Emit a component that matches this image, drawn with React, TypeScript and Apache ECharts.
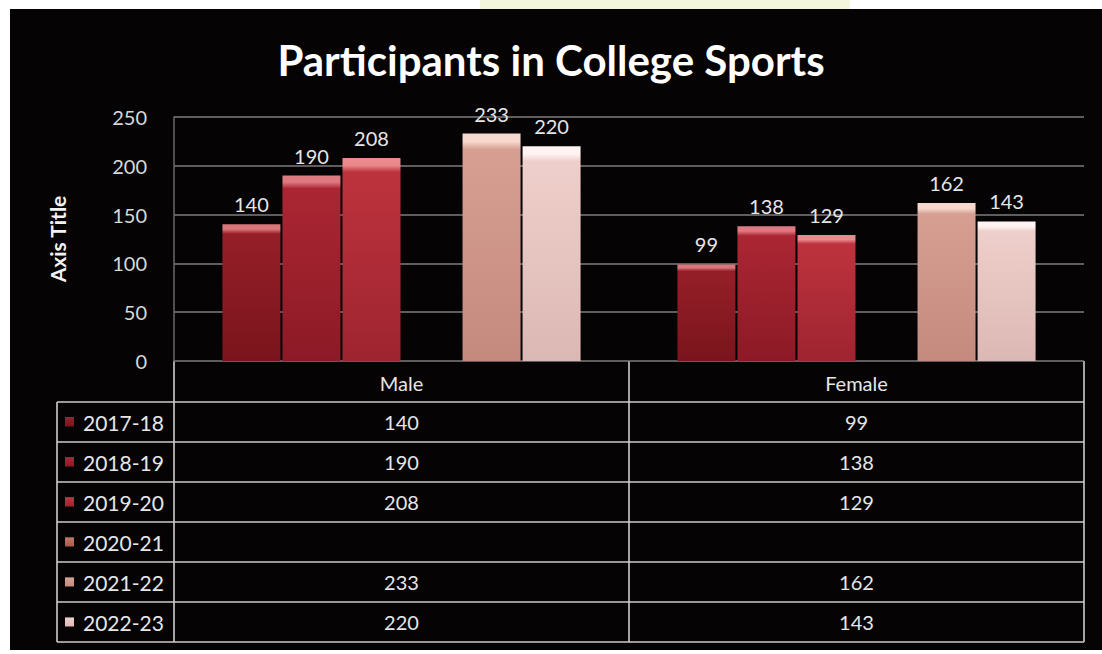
import React, { useEffect, useRef } from "react";
import * as echarts from "echarts";

const title = "Participants in College Sports";
const yAxisTitle = "Axis Title";
const categories = ["Male", "Female"];
const seriesNames = ["2017-18", "2018-19", "2019-20", "2020-21", "2021-22", "2022-23"];
const values2017 = [140, 99];
const values2018 = [190, 138];
const values2019 = [208, 129];
const values2020: (number | null)[] = [null, null];
const values2021 = [233, 162];
const values2022 = [220, 143];
const seriesValues = [values2017, values2018, values2019, values2020, values2021, values2022];
const yMin = 0;
const yMax = 250;
const yInterval = 50;

const palette = [
  { top: "#d9767a", base: "#951f28", bottom: "#7a141c" },
  { top: "#e07a82", base: "#ab2633", bottom: "#8c1a26" },
  { top: "#ea8a8c", base: "#bd333d", bottom: "#9e2430" },
  { top: "#eab0a0", base: "#c47464", bottom: "#a85a4c" },
  { top: "#f6d8cc", base: "#d79e92", bottom: "#c48a7e" },
  { top: "#fff4f2", base: "#efcfcb", bottom: "#dcb8b4" },
];

function fillFor(i: number) {
  const c = palette[i];
  return new echarts.graphic.LinearGradient(0, 0, 0, 1, [
    { offset: 0, color: c.top },
    { offset: 0.035, color: c.top },
    { offset: 0.07, color: c.base },
    { offset: 1, color: c.bottom },
  ]);
}

// layout (pixels)
const W = 1102;
const H = 654;
const plotLeft = 174;
const plotRight = 1084;
const plotTop = 117;
const plotBottom = 361;
const tableLeft = 57;
const rowH = 40;
const headerBottom = 402;

export default function App() {
  const ref = useRef<HTMLDivElement>(null);

  useEffect(() => {
    if (!ref.current) return;
    const chart = echarts.init(ref.current, null, { renderer: "svg" });
    const lineColor = "#cdcdcd";
    const textColor = "#e6e6e6";
    const font = "Lato, 'Open Sans', sans-serif";
    const midX = (plotLeft + plotRight) / 2;
    const colCenters = [(plotLeft + midX) / 2, (midX + plotRight) / 2];
    const tableBottom = headerBottom + rowH * seriesNames.length;

    const graphics: any[] = [];
    graphics.push({
      type: "rect", z: -10, silent: true,
      shape: { x: 10, y: 9, width: W - 10, height: 641 },
      style: { fill: "#050304" },
    });
    graphics.push({
      type: "rect", z: -9, silent: true,
      shape: { x: 480, y: 0, width: 370, height: 9 },
      style: { fill: "#f3f6dc" },
    });
    const lineStyle = { stroke: lineColor, lineWidth: 1.6 };
    graphics.push({ type: "line", shape: { x1: plotLeft, y1: plotBottom, x2: plotLeft, y2: tableBottom }, style: lineStyle });
    graphics.push({ type: "line", shape: { x1: midX, y1: plotBottom, x2: midX, y2: tableBottom }, style: lineStyle });
    graphics.push({ type: "line", shape: { x1: plotRight, y1: plotBottom, x2: plotRight, y2: tableBottom }, style: lineStyle });
    graphics.push({ type: "line", shape: { x1: tableLeft, y1: headerBottom, x2: tableLeft, y2: tableBottom }, style: lineStyle });
    for (let r = 0; r <= seriesNames.length; r++) {
      const y = headerBottom + r * rowH;
      graphics.push({ type: "line", shape: { x1: tableLeft, y1: y, x2: plotRight, y2: y }, style: lineStyle });
    }
    categories.forEach((c, i) => {
      graphics.push({
        type: "text", x: colCenters[i], y: (plotBottom + headerBottom) / 2 + 1,
        style: { text: c, fill: textColor, font: `20px ${font}`, align: "center", verticalAlign: "middle" },
      });
    });
    seriesNames.forEach((name, r) => {
      const yc = headerBottom + r * rowH + rowH / 2;
      graphics.push({
        type: "rect", shape: { x: 65, y: yc - 4.5, width: 9, height: 9 },
        style: { fill: fillFor(r) },
      });
      graphics.push({
        type: "text", x: 83, y: yc,
        style: { text: name, fill: textColor, font: `21px ${font}`, align: "left", verticalAlign: "middle" },
      });
      seriesValues[r].forEach((v, i) => {
        if (v === null || v === undefined) return;
        graphics.push({
          type: "text", x: colCenters[i], y: yc,
          style: { text: String(v), fill: textColor, font: `20px ${font}`, align: "center", verticalAlign: "middle" },
        });
      });
    });

    chart.setOption({
      animation: false,
      backgroundColor: "#ffffff",
      title: {
        text: title,
        left: "center",
        top: 34,
        textStyle: { color: "#ffffff", fontSize: 42, fontWeight: "bold", fontFamily: font },
      },
      grid: { left: plotLeft, right: W - plotRight, top: plotTop, bottom: H - plotBottom, containLabel: false },
      xAxis: {
        type: "category",
        data: categories,
        axisLine: { show: false },
        axisTick: { show: false },
        axisLabel: { show: false },
      },
      yAxis: {
        type: "value",
        min: yMin,
        max: yMax,
        interval: yInterval,
        name: yAxisTitle,
        nameLocation: "middle",
        nameGap: 106,
        nameTextStyle: { color: "#f2f2f2", fontSize: 21, fontWeight: "bold", fontFamily: font },
        axisLine: { show: true, lineStyle: { color: "#6a6a6a", width: 1.5 } },
        axisTick: { show: false },
        axisLabel: { color: "#d8d8d8", fontSize: 20, fontFamily: font, margin: 27 },
        splitLine: { lineStyle: { color: "#7e7e7e", width: 1.5 } },
      },
      series: seriesNames.map((name, i) => ({
        name,
        type: "bar",
        data: seriesValues[i],
        barWidth: 58,
        barGap: "3.5%",
        itemStyle: { color: fillFor(i) },
        label: {
          show: true,
          position: "top",
          distance: 10,
          color: "#e6e6e6",
          fontSize: 20,
          fontFamily: font,
        },
      })),
      graphic: graphics,
    });
    return () => chart.dispose();
  }, []);

  return (
    <div
      ref={ref}
      style={{ position: "fixed", left: 0, top: 0, width: W, height: H }}
    />
  );
}
